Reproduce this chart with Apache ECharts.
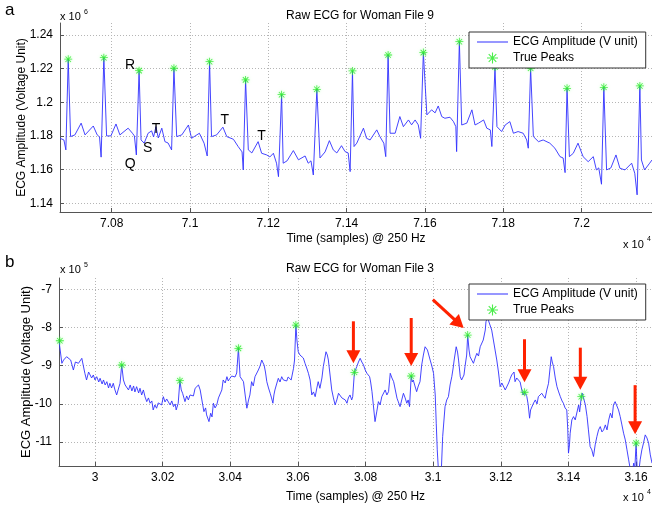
<!DOCTYPE html>
<html>
<head>
<meta charset="utf-8">
<script src="https://cdn.jsdelivr.net/npm/echarts@6/dist/echarts.min.js"></script>
<style>
html, body { margin: 0; padding: 0; background: #fff; }
#chart { width: 652px; height: 506px; }
</style>
</head>
<body>
<div id="chart"></div>
<script>
const FONT = '"Liberation Sans", Arial, Helvetica, sans-serif';

// panel a : Woman File 9, time in samples, amplitude in units of 10^6
const ecgA_t = [70668, 70678, 70683, 70689, 70695, 70706, 70722, 70732, 70753, 70763, 70769, 70773,
    70780, 70787, 70798, 70811, 70821, 70842, 70853, 70858, 70863,
    70870, 70875, 70883, 70893, 70902, 70907, 70913, 70919, 70928, 70936, 70944, 70953,
    70959, 70966, 70979, 70996, 71004, 71024, 71036, 71044,
    71050, 71055, 71068, 71084, 71094, 71111, 71123, 71133, 71136,
    71142, 71149, 71158, 71174, 71183, 71196, 71204, 71213, 71221, 71226,
    71234, 71238, 71248, 71264, 71277, 71294, 71302, 71309, 71315,
    71324, 71332, 71345, 71356, 71366, 71375, 71387, 71396, 71404, 71409,
    71415, 71419, 71426, 71443, 71451, 71460, 71477, 71485, 71495, 71500,
    71506, 71511, 71524, 71536, 71545, 71558, 71566, 71575, 71583, 71589,
    71596, 71605, 71617, 71626, 71634, 71643, 71651, 71664, 71673, 71679, 71681,
    71688, 71694, 71707, 71720, 71728, 71737, 71750, 71758, 71767, 71771,
    71779, 71784, 71796, 71805, 71817, 71826, 71838, 71851, 71860, 71864,
    71870, 71877, 71890, 71902, 71919, 71932, 71945, 71953, 71958,
    71963, 71969, 71979, 71991, 72004, 72017, 72030, 72038, 72044, 72051,
    72057, 72064, 72075, 72088, 72098, 72111, 72128, 72136, 72142,
    72149, 72153, 72161, 72174, 72180];
const ecgA_v = [1.1786, 1.1776, 1.1717, 1.2256, 1.1796, 1.1806, 1.1876, 1.1806, 1.1859, 1.1806, 1.1794, 1.1674,
    1.2265, 1.18, 1.18, 1.1871, 1.1806, 1.1846, 1.1816, 1.18, 1.1687,
    1.2188, 1.1776, 1.1757, 1.1816, 1.183, 1.1794, 1.1855, 1.1788, 1.1846, 1.1766, 1.1758, 1.1717,
    1.2202, 1.1796, 1.1806, 1.1865, 1.1786, 1.1816, 1.1757, 1.1681,
    1.2241, 1.1796, 1.1806, 1.1852, 1.1796, 1.178, 1.1737, 1.1705, 1.1598,
    1.2133, 1.1717, 1.1699, 1.1766, 1.1697, 1.1687, 1.1675, 1.1697, 1.1638, 1.1558,
    1.2045, 1.1638, 1.1652, 1.1713, 1.1658, 1.1681, 1.1638, 1.1652, 1.1568,
    1.2077, 1.1669, 1.1705, 1.1772, 1.1717, 1.1699, 1.1742, 1.1707, 1.1699, 1.1588,
    1.2186, 1.1737, 1.1757, 1.1846, 1.1786, 1.1776, 1.1836, 1.1796, 1.1757, 1.1677,
    1.2281, 1.1816, 1.1816, 1.1915, 1.1855, 1.1895, 1.1866, 1.1895, 1.1866, 1.1786,
    1.2295, 1.1925, 1.1955, 1.1937, 1.1978, 1.1915, 1.1905, 1.1911, 1.1885, 1.1855, 1.1707,
    1.236, 1.1865, 1.1876, 1.1955, 1.1865, 1.1876, 1.1895, 1.1846, 1.1836, 1.1737,
    1.221, 1.1855, 1.1826, 1.1865, 1.1885, 1.1816, 1.1826, 1.1816, 1.1776, 1.1727,
    1.2202, 1.1796, 1.1766, 1.1776, 1.1757, 1.1727, 1.1677, 1.1669, 1.1582,
    1.2083, 1.1677, 1.1697, 1.1757, 1.1677, 1.1647, 1.1677, 1.1598, 1.161, 1.1513,
    1.2089, 1.1598, 1.161, 1.1687, 1.1608, 1.1598, 1.1638, 1.1578, 1.145,
    1.2097, 1.1657, 1.1598, 1.1638, 1.1657];
const peaksA_t = [70689, 70780, 70870, 70959, 71050, 71142, 71234, 71324, 71415,
    71506, 71596, 71688, 71779, 71870, 71963, 72057, 72149];
const peaksA_v = [1.2256, 1.2265, 1.2188, 1.2202, 1.2241, 1.2133, 1.2045, 1.2077, 1.2186,
    1.2281, 1.2295, 1.236, 1.221, 1.2202, 1.2083, 1.2089, 1.2097];
const ticksA_x = [70800, 71000, 71200, 71400, 71600, 71800, 72000];
const ticksA_y = [1.14, 1.16, 1.18, 1.2, 1.22, 1.24];
const wavesA = [['R', 70847, 1.2222], ['Q', 70847, 1.1634], ['S', 70892, 1.1727],
    ['T', 70913, 1.184], ['T', 71089, 1.1895], ['T', 71183, 1.18]];

// panel b : Woman File 3, amplitude in units of 10^5
const ecgB_t = [29894, 29896, 29902, 29907, 29916, 29921, 29928, 29936, 29942, 29951, 29961, 29965,
    29970, 29975, 29981, 29985, 29990, 29995, 30000, 30005, 30011, 30015, 30021, 30025, 30030,
    30035, 30040, 30044, 30049, 30054, 30059, 30064, 30069, 30074, 30079, 30084, 30089, 30094,
    30099, 30104, 30109, 30114, 30118, 30123, 30129, 30133, 30138, 30143, 30148, 30153, 30158,
    30163, 30168, 30172, 30177, 30182, 30187, 30192, 30197, 30202, 30207, 30212, 30217, 30222,
    30227, 30232, 30237, 30240, 30246, 30251, 30255, 30259, 30266, 30271, 30276, 30281, 30286,
    30291, 30296, 30301, 30306, 30311, 30316, 30322, 30327, 30330, 30337, 30342, 30346, 30350,
    30355, 30360, 30365, 30370, 30375, 30379, 30385, 30390, 30394, 30399, 30404, 30409, 30414,
    30419, 30424, 30429, 30434, 30439, 30444, 30449, 30454, 30458, 30463, 30468, 30473, 30478,
    30483, 30488, 30493, 30497, 30500, 30504, 30508, 30513, 30518, 30522, 30526, 30529, 30532,
    30537, 30542, 30547, 30552, 30557, 30562, 30567, 30571, 30575, 30580, 30587, 30590, 30594,
    30597, 30601, 30606, 30611, 30616, 30621, 30626, 30631, 30636, 30641, 30646, 30651, 30656,
    30660, 30665, 30671, 30675, 30683, 30687, 30690, 30695, 30700, 30705, 30710, 30715, 30720,
    30725, 30730, 30735, 30740, 30745, 30749, 30754, 30759, 30762, 30767, 30774, 30779, 30784,
    30789, 30794, 30799, 30804, 30808, 30812, 30815, 30819, 30823, 30828, 30833, 30838, 30843,
    30848, 30853, 30858, 30863, 30868, 30873, 30878, 30883, 30888, 30893, 30897, 30902, 30907,
    30912, 30917, 30922, 30926, 30930, 30935, 30938, 30941, 30946, 30951, 30956, 30961, 30966,
    30971, 30976, 30983, 30991, 30996, 31001, 31006, 31009, 31012, 31017, 31020, 31023, 31028,
    31035, 31040, 31045, 31050, 31055, 31059, 31062, 31068, 31072, 31075, 31080, 31084, 31088,
    31091, 31094, 31099, 31102, 31106, 31109, 31114, 31119, 31124, 31129, 31134, 31139, 31144,
    31148, 31154, 31156, 31160, 31163, 31166, 31168, 31173, 31178, 31183, 31188, 31193, 31198,
    31203, 31208, 31213, 31218, 31223, 31228, 31232, 31236, 31239, 31242, 31247, 31252, 31257,
    31262, 31266, 31270, 31277, 31281, 31285, 31288, 31292, 31297, 31302, 31307, 31311, 31316,
    31321, 31326, 31331, 31336, 31341, 31345, 31349, 31352, 31356, 31361, 31366, 31371, 31376,
    31381, 31385, 31390, 31395, 31398, 31400, 31403, 31405, 31410, 31415, 31420, 31425, 31430,
    31433, 31438, 31441, 31445, 31450, 31455, 31459, 31464, 31469, 31474, 31479, 31484, 31489,
    31494, 31499, 31504, 31509, 31514, 31519, 31524, 31529, 31533, 31538, 31543, 31548, 31553,
    31558, 31563, 31568, 31573, 31578, 31583, 31587, 31593, 31596, 31600, 31603, 31607, 31612,
    31617, 31622, 31627, 31632, 31637, 31642, 31647];
const ecgB_v = [-8.38, -8.345, -8.937, -8.851, -8.764, -8.72, -8.851, -9.113, -8.903, -8.937, -8.806, -8.982,
    -9.199, -9.374, -9.165, -9.157, -9.322, -9.243, -9.374, -9.288, -9.427, -9.33, -9.479, -9.374, -9.505,
    -9.419, -9.584, -9.461, -9.584, -9.461, -9.636, -9.767, -9.812, -9.461, -8.982, -9.374, -9.505, -9.461,
    -9.636, -9.505, -9.662, -9.531, -9.688, -9.55, -9.715, -9.592, -9.767, -9.636, -9.819, -9.942, -9.845,
    -9.984, -9.924, -10.16, -10.029, -10.115, -9.976, -9.942, -10.029, -9.812, -9.95, -9.872, -9.898, -10.029,
    -9.924, -10.073, -10.003, -10.16, -9.984, -9.393, -9.636, -9.723, -9.942, -9.793, -9.898, -9.767, -9.723,
    -9.793, -9.592, -9.636, -9.505, -9.636, -9.898, -10.204, -10.107, -10.291, -10.466, -10.246, -10.343, -9.984,
    -10.107, -10.029, -9.845, -9.812, -9.636, -9.374, -9.453, -9.288, -9.401, -9.33, -9.27, -9.243, -9.296,
    -9.191, -8.545, -9.288, -9.243, -9.419, -9.767, -10.115, -9.898, -9.767, -9.419, -9.531, -9.288, -9.322,
    -9.113, -9.008, -8.851, -8.929, -8.982, -9.165, -9.419, -9.584, -9.723, -9.845, -9.984, -9.767, -9.636,
    -9.479, -9.33, -9.427, -9.288, -9.374, -9.33, -9.401, -9.296, -9.288, -9.374, -9.068, -8.851, -7.935,
    -8.327, -8.634, -8.72, -8.675, -8.798, -8.937, -9.06, -9.199, -9.374, -9.767, -9.688, -9.812, -9.584,
    -9.419, -9.592, -9.322, -9.026, -8.634, -8.72, -8.851, -9.243, -9.636, -9.845, -10.029, -9.898, -9.723,
    -9.681, -9.845, -9.812, -9.898, -9.984, -9.845, -9.767, -9.898, -9.812, -9.173, -9.026, -8.903, -8.806,
    -8.903, -8.982, -9.113, -9.199, -9.165, -9.288, -9.427, -9.681, -10.029, -10.466, -10.212, -9.942, -10.029,
    -9.812, -9.845, -9.636, -9.767, -9.681, -9.199, -9.322, -9.419, -9.636, -9.853, -9.95, -10.073, -9.898,
    -9.723, -9.845, -9.984, -9.898, -10.073, -9.27, -9.427, -9.374, -9.531, -9.681, -9.531, -9.419, -8.982,
    -8.72, -8.503, -8.589, -8.851, -9.008, -9.199, -9.767, -10.508, -11.207, -11.99, -12.12, -11.99, -10.859,
    -10.073, -9.898, -9.812, -9.505, -9.288, -9.06, -8.851, -8.503, -8.642, -8.851, -9.288, -9.374, -9.419,
    -9.243, -9.026, -8.72, -8.196, -8.589, -8.764, -8.851, -8.937, -8.798, -8.675, -8.746, -8.503, -8.537,
    -8.327, -8.065, -7.848, -7.751, -7.804, -7.764, -7.848, -8.065, -8.327, -8.589, -8.851, -9.165, -9.55,
    -9.453, -9.461, -9.636, -9.592, -9.453, -9.33, -9.243, -9.288, -9.165, -9.419, -9.322, -9.374, -9.427,
    -9.636, -9.767, -9.696, -9.812, -10.029, -10.377, -10.16, -10.16, -9.976, -9.898, -10.003, -9.812, -9.845,
    -9.723, -9.793, -9.853, -9.636, -9.461, -9.113, -8.764, -8.903, -9.026, -9.322, -9.55, -9.688, -9.812,
    -9.924, -9.984, -10.107, -10.16, -10.683, -11.293, -11.076, -10.77, -10.421, -10.335, -10.421, -10.421, -10.029,
    -10.212, -9.812, -9.723, -9.723, -10.029, -10.335, -10.683, -11.12, -11.207, -11.382, -11.076, -10.859, -10.683,
    -10.597, -10.736, -10.683, -10.552, -10.683, -10.421, -10.246, -10.369, -10.029, -9.942, -9.976, -10.16, -10.335,
    -10.552, -10.77, -10.945, -11.207, -11.469, -11.73, -11.861, -11.555, -11.73, -11.031, -11.678, -11.861, -11.469,
    -11.207, -11.024, -10.814, -10.893, -11.031, -11.338, -11.555];
const peaksB_t = [29896, 30079, 30251, 30424, 30594, 30767, 30935, 31102, 31270, 31438, 31600];
const peaksB_v = [-8.345, -8.982, -9.393, -8.545, -7.935, -9.173, -9.27, -8.196, -9.696, -9.812, -11.031];
const ticksB_x = [30000, 30200, 30400, 30600, 30800, 31000, 31200, 31400, 31600];
const ticksB_y = [-11, -10, -9, -8, -7];
// peaks marked with a red arrow (index into peaksB)
const arrowedB = [5, 6, 7, 8, 9, 10];

const LINE_NAME = 'ECG Amplitude (V unit)';
const PEAK_NAME = 'True Peaks';
const STAR = 'path://M4.5 0H5.5V10H4.5Z M0 4.5H10V5.5H0Z M1.2 1.9L1.9 1.2L8.8 8.1L8.1 8.8Z M8.1 1.2L8.8 1.9L1.9 8.8L1.2 8.1Z';
const DASH = 'path://M0 0H40V1.3H0Z';

const zip = (a, b) => a.map((x, i) => [x, b[i]]);
const fmtX = v => String(Number((v / 1e4).toFixed(4)));
const fmtY = v => String(Number(v.toFixed(4)));

function xAxisOf(grid, min, max, ticks, gap) {
    return {
        type: 'value', gridIndex: grid, min: min, max: max,
        name: 'Time (samples) @ 250 Hz', nameLocation: 'middle', nameGap: gap, nameMoveOverlap: false,
        nameTextStyle: {fontFamily: FONT, fontSize: 12, color: '#000'},
        axisLine: {lineStyle: {color: '#555', width: 1}},
        axisTick: {inside: true, length: 4, customValues: ticks, lineStyle: {color: '#555'}},
        axisLabel: {customValues: ticks, formatter: fmtX, fontFamily: FONT, fontSize: 12, color: '#000', margin: 6},
        splitLine: {show: true, lineStyle: {color: '#b5b5b5', type: [1, 2], width: 1}}
    };
}

function yAxisOf(grid, min, max, ticks, gap, size) {
    return {
        type: 'value', gridIndex: grid, min: min, max: max,
        name: 'ECG Amplitude (Voltage Unit)', nameLocation: 'middle', nameGap: gap, nameMoveOverlap: false,
        nameTextStyle: {fontFamily: FONT, fontSize: size, color: '#000'},
        axisLine: {show: true, lineStyle: {color: '#555', width: 1}},
        axisTick: {show: true, inside: true, length: 4, customValues: ticks, lineStyle: {color: '#555'}},
        axisLabel: {customValues: ticks, formatter: fmtY, fontFamily: FONT, fontSize: 12, color: '#000', margin: 7},
        splitLine: {show: true, lineStyle: {color: '#b5b5b5', type: [1, 2], width: 1}}
    };
}

function legendAt(top) {
    return {
        orient: 'vertical', left: 469, top: top,
        data: [{name: LINE_NAME, icon: DASH}, {name: PEAK_NAME, icon: STAR}],
        itemWidth: 31, itemHeight: 11, itemGap: 4,
        padding: [4, 8, 4, 8],
        backgroundColor: '#fff', borderColor: '#333', borderWidth: 1, borderRadius: 0,
        textStyle: {fontFamily: FONT, fontSize: 12, color: '#000'},
        selectedMode: false, z: 10
    };
}

function lineSeries(grid, t, v) {
    return {
        name: LINE_NAME, type: 'line', xAxisIndex: grid, yAxisIndex: grid,
        data: zip(t, v), symbol: 'none', clip: true, animation: false,
        lineStyle: {color: '#3030ff', width: 0.9}, itemStyle: {color: '#3030ff'}, z: 2
    };
}

function peakSeries(grid, t, v) {
    return {
        name: PEAK_NAME, type: 'scatter', xAxisIndex: grid, yAxisIndex: grid,
        data: zip(t, v), symbol: STAR, symbolSize: 8, animation: false,
        itemStyle: {color: '#1fe81f', shadowColor: 'rgba(120, 255, 120, 0.7)', shadowBlur: 3}, z: 3
    };
}

const chart = echarts.init(document.getElementById('chart'), null, {renderer: 'canvas'});

chart.setOption({
    backgroundColor: '#fff',
    animation: false,
    title: [
        {text: 'Raw ECG for Woman File 9', left: 355, top: 5, textAlign: 'center',
            textStyle: {fontFamily: FONT, fontSize: 12, fontWeight: 'normal', color: '#000'}},
        {text: 'Raw ECG for Woman File 3', left: 355, top: 258, textAlign: 'center',
            textStyle: {fontFamily: FONT, fontSize: 12, fontWeight: 'normal', color: '#000'}}
    ],
    legend: [legendAt(32), legendAt(284)],
    grid: [
        {left: 60, top: 23, right: 0, height: 189},
        {left: 59, top: 278, right: 0, height: 188}
    ],
    xAxis: [
        xAxisOf(0, 70668, 72180, ticksA_x, 21),
        xAxisOf(1, 29893.5, 31647, ticksB_x, 25)
    ],
    yAxis: [
        yAxisOf(0, 1.1348, 1.2471, ticksA_y, 32, 12),
        yAxisOf(1, -11.63, -6.70, ticksB_y, 26, 13)
    ],
    series: [
        lineSeries(0, ecgA_t, ecgA_v),
        peakSeries(0, peaksA_t, peaksA_v),
        lineSeries(1, ecgB_t, ecgB_v),
        peakSeries(1, peaksB_t, peaksB_v)
    ]
});

// annotations: panel letters, exponent labels, wave letters, red arrows
const graphics = [];
const txt = (x, y, text, size, align) => ({
    type: 'text', x: x, y: y, z: 20,
    style: {text: text, fontFamily: FONT, fontSize: size, fill: '#000', align: align || 'left', verticalAlign: 'middle'}
});

graphics.push(txt(5, 10, 'a', 17));
graphics.push(txt(5, 262, 'b', 17));
graphics.push(txt(60, 17, 'x 10', 11), txt(84, 12, '6', 7));
graphics.push(txt(60, 270, 'x 10', 11), txt(84, 265, '5', 7));
graphics.push(txt(623, 245, 'x 10', 11), txt(647, 239, '4', 7));
graphics.push(txt(623, 498, 'x 10', 11), txt(647, 492, '4', 7));

wavesA.forEach(([label, t, v]) => {
    const p = chart.convertToPixel({gridIndex: 0}, [t, v]);
    graphics.push(txt(p[0], p[1], label, 14, 'center'));
});

// arrow geometry relative to the peak: [dx, dy of tip, direction x, direction y, length]
const arrowShape = [[-1, -9, 0, 1, 42], [0, -10, 0, 1, 48], [-4, -7, 0.735, 0.678, 42],
    [0, -10, 0, 1, 43], [-1, -7, 0, 1, 42], [-1, -9, 0, 1, 49]];

arrowedB.forEach((k, i) => {
    const p = chart.convertToPixel({gridIndex: 1}, [peaksB_t[k], peaksB_v[k]]);
    const [dx, dy, ux, uy, len] = arrowShape[i];
    const tx = p[0] + dx, ty = p[1] + dy;
    const head = 13, half = 7;
    const bx = tx - ux * head, by = ty - uy * head;
    const nx = -uy, ny = ux;

    graphics.push({
        type: 'line', z: 15,
        shape: {x1: tx - ux * len, y1: ty - uy * len, x2: bx + ux, y2: by + uy},
        style: {stroke: '#ff2200', lineWidth: 3}
    });
    graphics.push({
        type: 'polygon', z: 15,
        shape: {points: [[tx, ty], [bx + nx * half, by + ny * half], [bx - nx * half, by - ny * half]]},
        style: {fill: '#ff2200'}
    });
});

chart.setOption({graphic: graphics});
</script>
</body>
</html>
